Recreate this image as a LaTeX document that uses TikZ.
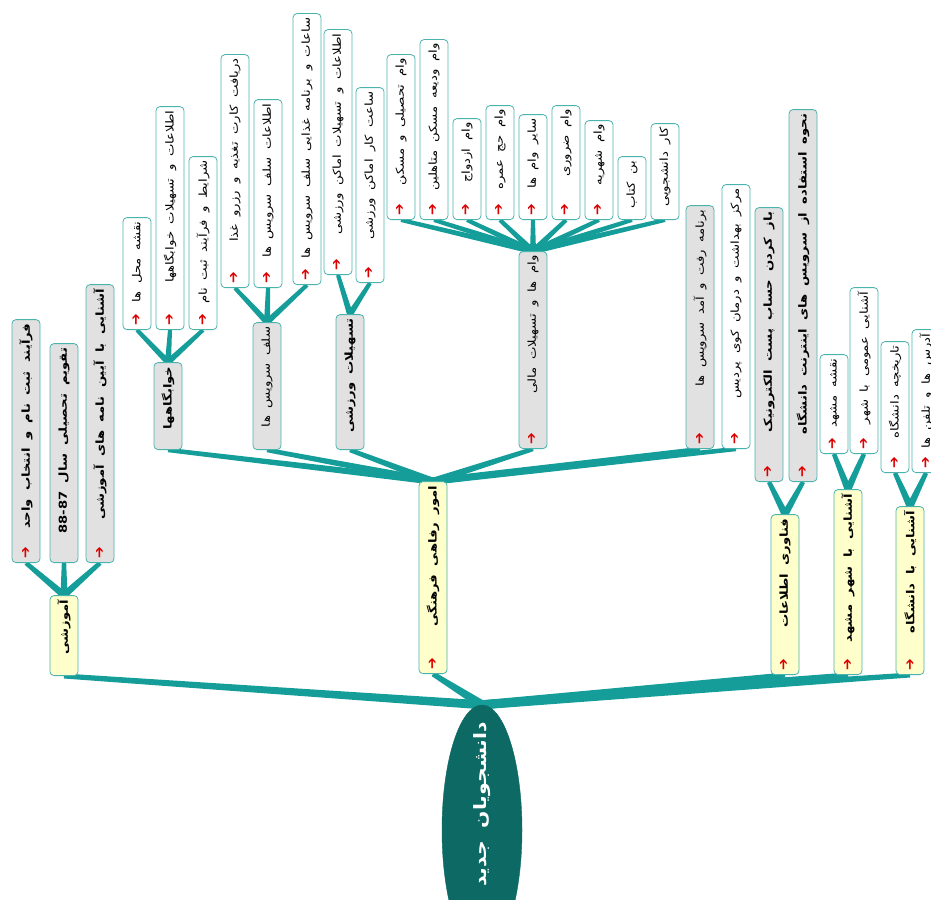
\documentclass[tikz,border=0pt]{standalone}
\usepackage{fontspec}
\usetikzlibrary{shapes.geometric,calc,backgrounds}
\newfontfamily\fa[Script=Arabic,FakeStretch=1.2,WordSpace=1.8]{DejaVu Sans}
\newfontfamily\symfont{DejaVu Sans}
\TeXXeTstate=1
\definecolor{linkcol}{HTML}{159D99}
\definecolor{boxline}{HTML}{4AB3AE}
\definecolor{topicfill}{HTML}{FFFFCC}
\definecolor{subfill}{HTML}{E1E1E1}
\definecolor{rootfill}{HTML}{0D6964}
\definecolor{arrowred}{HTML}{DD0000}
\newcommand{\fs}{\fontsize{11}{13}\selectfont}
\newcommand{\upar}{{\symfont\bfseries\fontsize{14}{14}\selectfont\color{arrowred}➔}}
\newcommand{\taper}[4]{%
  \fill[linkcol] ($(#1.east)!#3!90:(#2.west)$) -- ($(#2.west)!#4!-90:(#1.east)$)
    -- ($(#2.west)!#4!90:(#1.east)$) -- ($(#1.east)!#3!-90:(#2.west)$) -- cycle;}
\begin{document}
\begin{tikzpicture}[x=1pt,y=-1pt,
  box/.style={draw=boxline,line width=0.8pt,rounded corners=4pt,rotate=90,anchor=west,
    minimum height=28pt,inner xsep=4pt,inner ysep=0pt},
  topic/.style={box,fill=topicfill,font=\fa\bfseries\fs},
  subb/.style={box,fill=subfill,font=\fa\bfseries\fs},
  subn/.style={box,fill=subfill,font=\fa\fs},
  leaf/.style={box,fill=white,font=\fa\fs},
  root/.style={ellipse,fill=rootfill,draw=rootfill,text=white,rotate=90,
    minimum width=250pt,minimum height=80pt,inner sep=0pt,
    font=\fa\bfseries\fontsize{17}{20}\selectfont}]
\useasboundingbox (0,0) rectangle (931,899);
\clip (0,0) rectangle (931,899);
\node[root] (r) at (482,830) {\hbox to 0pt{\hskip108pt\llap{\beginR دانشجویان جدید\endR}\hss}};
\foreach \n/\x/\y/\l/\s/\a/\t in {
  a1/64/676/80/topic/0/آموزشی,
  a2/433/674/192/topic/1/امور رفاهی فرهنگی,
  a3/785/675/160/topic/1/فناوری اطلاعات,
  a4/848/675/185/topic/1/آشنایی با شهر مشهد,
  a5/910/675/168/topic/1/آشنایی با دانشگاه,
  b11/26/563/243/subb/1/فرآیند ثبت نام و انتخاب واحد,
  b12/64/563/219/subb/0/تقویم تحصیلی سال \beginL88-87\endL,
  b13/100/563/278/subb/1/آشنایی با آیین نامه های آموزشی,
  b21/168/450/87/subb/0/خوابگاهها,
  b22/267/450/127/subn/0/سلف سرویس ها,
  b23/350/450/135/subb/0/تسهیلات ورزشی,
  b24/533/449/197/subn/1/وام ها و تسهیلات مالی,
  b25/700/449/243/subn/1/برنامه رفت و آمد سرویس ها,
  b26/736/449/264/leaf/1/مرکز بهداشت و درمان کوی پردیس,
  b31/769/482/274/subb/1/باز کردن حساب پست الکترونیک,
  b32/803/482/372/subb/1/نحوه استفاده از سرویس های اینترنت دانشگاه,
  b41/834/454/99/leaf/1/نقشه مشهد,
  b42/864/454/166/leaf/1/آشنایی عمومی با شهر,
  b51/895/473/131/leaf/1/تاریخچه دانشگاه,
  b52/926/473/143/leaf/1/آدرس ها و تلفن ها,
  c211/137/330/112/leaf/1/نقشه محل ها,
  c212/170/330/223/leaf/1/اطلاعات و تسهیلات خوابگاهها,
  c213/203/330/173/leaf/1/شرایط و فرآیند ثبت نام,
  c221/235/288/233/leaf/1/دریافت کارت تغذیه و رزرو غذا,
  c222/268/288/188/leaf/1/اطلاعات سلف سرویس ها,
  c223/307/285/271/leaf/1/ساعات و برنامه غذایی سلف سرویس ها,
  c231/338/275/245/leaf/1/اطلاعات و تسهیلات اماکن ورزشی,
  c232/370/283/195/leaf/1/ساعت کار اماکن ورزشی,
  c241/401/220/165/leaf/1/وام تحصیلی و مسکن,
  c242/434/220/180/leaf/1/وام ودیعه مسکن متاهلین,
  c243/467/220/101/leaf/1/وام ازدواج,
  c244/500/220/114/leaf/1/وام حج عمره,
  c245/533/220/105/leaf/1/سایر وام ها,
  c246/566/220/114/leaf/1/وام ضروری,
  c247/599/220/99/leaf/1/وام شهریه,
  c248/632/220/63/leaf/0/بن کتاب,
  c249/665/220/96/leaf/0/کار دانشجویی}
  \node[\s] (\n) at (\x,\y)
    {\hbox to \dimexpr\l pt-8pt\relax{\ifnum\a=1 \upar\fi\hfill\beginR\t\endR}};
\begin{scope}[on background layer]
\foreach \c in {a1,a2,a3,a4,a5} \taper{r}{\c}{4.5pt}{2.5pt};
\foreach \p/\c in {a1/b11,a1/b12,a1/b13,a2/b21,a2/b22,a2/b23,a2/b24,a2/b25,a2/b26,
  a3/b31,a3/b32,a4/b41,a4/b42,a5/b51,a5/b52}
  \taper{\p}{\c}{3.5pt}{2.2pt};
\foreach \p/\c in {b21/c211,b21/c212,b21/c213,b22/c221,b22/c222,b22/c223,b23/c231,b23/c232,
  b24/c241,b24/c242,b24/c243,b24/c244,b24/c245,b24/c246,b24/c247,b24/c248,b24/c249}
  \taper{\p}{\c}{3pt}{2pt};
\end{scope}
\end{tikzpicture}
\end{document}
